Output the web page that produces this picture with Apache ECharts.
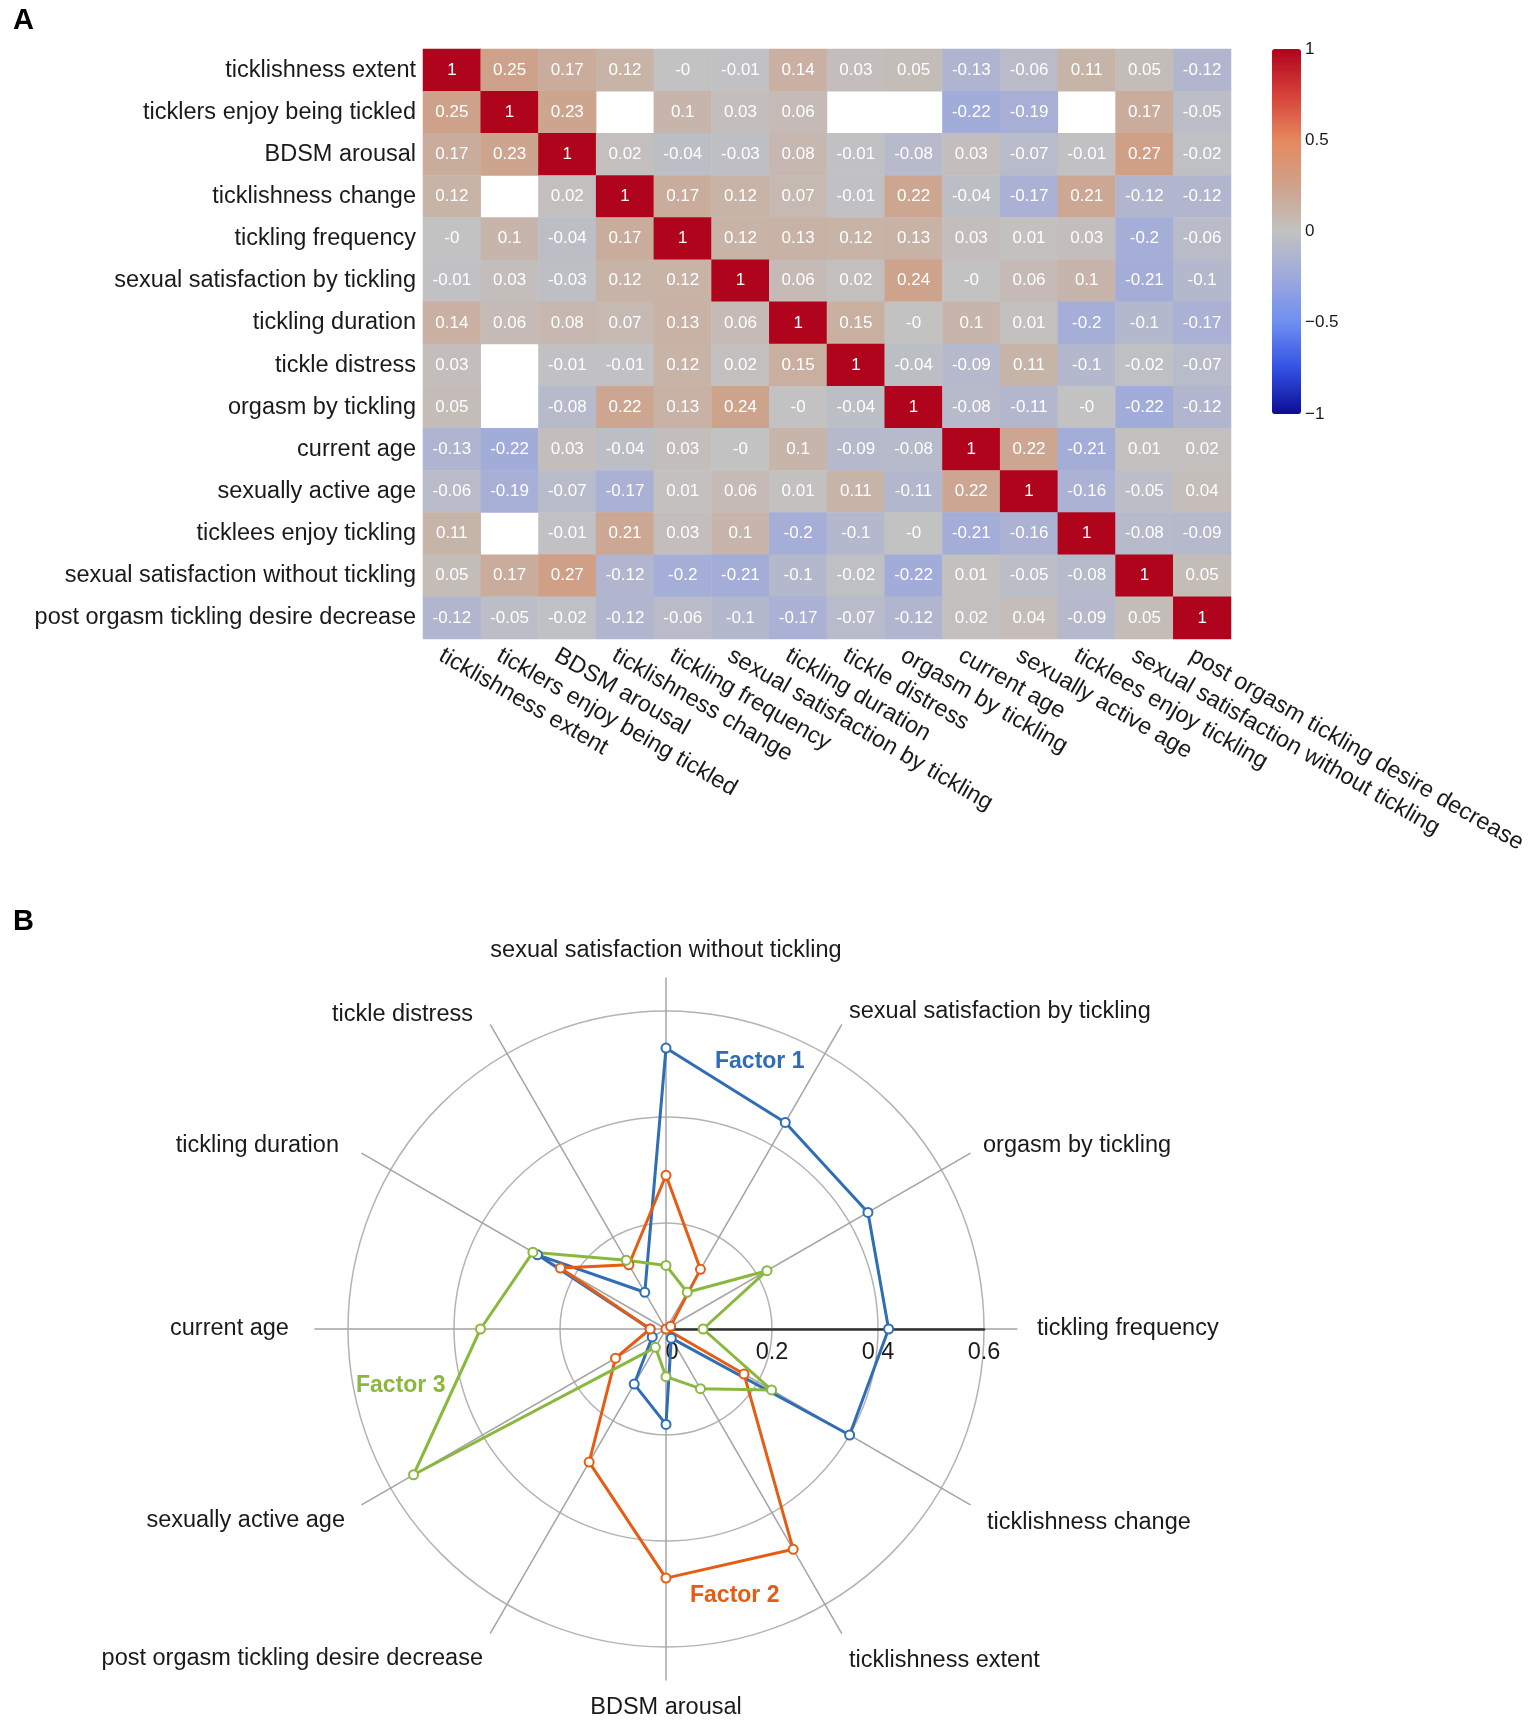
<!DOCTYPE html>
<html><head><meta charset="utf-8">
<script src="https://cdn.jsdelivr.net/npm/echarts@6/dist/echarts.min.js"></script>
<style>html,body{margin:0;padding:0;background:#fff}#c{width:1535px;height:1725px}</style>
</head><body><div id="c"></div>
<script>
// ---------- Panel A data ----------
const variables = [
  'ticklishness extent','ticklers enjoy being tickled','BDSM arousal','ticklishness change',
  'tickling frequency','sexual satisfaction by tickling','tickling duration','tickle distress',
  'orgasm by tickling','current age','sexually active age','ticklees enjoy tickling',
  'sexual satisfaction without tickling','post orgasm tickling desire decrease'
];
const corr = [
  [1, 0.25, 0.17, 0.12, -0, -0.01, 0.14, 0.03, 0.05, -0.13, -0.06, 0.11, 0.05, -0.12],
  [0.25, 1, 0.23, null, 0.1, 0.03, 0.06, null, null, -0.22, -0.19, null, 0.17, -0.05],
  [0.17, 0.23, 1, 0.02, -0.04, -0.03, 0.08, -0.01, -0.08, 0.03, -0.07, -0.01, 0.27, -0.02],
  [0.12, null, 0.02, 1, 0.17, 0.12, 0.07, -0.01, 0.22, -0.04, -0.17, 0.21, -0.12, -0.12],
  [-0, 0.1, -0.04, 0.17, 1, 0.12, 0.13, 0.12, 0.13, 0.03, 0.01, 0.03, -0.2, -0.06],
  [-0.01, 0.03, -0.03, 0.12, 0.12, 1, 0.06, 0.02, 0.24, -0, 0.06, 0.1, -0.21, -0.1],
  [0.14, 0.06, 0.08, 0.07, 0.13, 0.06, 1, 0.15, -0, 0.1, 0.01, -0.2, -0.1, -0.17],
  [0.03, null, -0.01, -0.01, 0.12, 0.02, 0.15, 1, -0.04, -0.09, 0.11, -0.1, -0.02, -0.07],
  [0.05, null, -0.08, 0.22, 0.13, 0.24, -0, -0.04, 1, -0.08, -0.11, -0, -0.22, -0.12],
  [-0.13, -0.22, 0.03, -0.04, 0.03, -0, 0.1, -0.09, -0.08, 1, 0.22, -0.21, 0.01, 0.02],
  [-0.06, -0.19, -0.07, -0.17, 0.01, 0.06, 0.01, 0.11, -0.11, 0.22, 1, -0.16, -0.05, 0.04],
  [0.11, null, -0.01, 0.21, 0.03, 0.1, -0.2, -0.1, -0, -0.21, -0.16, 1, -0.08, -0.09],
  [0.05, 0.17, 0.27, -0.12, -0.2, -0.21, -0.1, -0.02, -0.22, 0.01, -0.05, -0.08, 1, 0.05],
  [-0.12, -0.05, -0.02, -0.12, -0.06, -0.1, -0.17, -0.07, -0.12, 0.02, 0.04, -0.09, 0.05, 1]
];

// ---------- Panel B data (radar axes listed counter-clockwise from top) ----------
const radarAxes = [
  'sexual satisfaction without tickling','tickle distress','tickling duration','current age',
  'sexually active age','post orgasm tickling desire decrease','BDSM arousal','ticklishness extent',
  'ticklishness change','tickling frequency','orgasm by tickling','sexual satisfaction by tickling'
];
const factor1 = [0.53, 0.08, 0.28, 0.03, 0.03, 0.12, 0.18, 0.02, 0.40, 0.42, 0.44, 0.45];
const factor2 = [0.29, 0.14, 0.23, 0.03, 0.11, 0.29, 0.47, 0.48, 0.17, 0.00, 0.01, 0.13];
const factor3 = [0.12, 0.15, 0.29, 0.35, 0.55, 0.04, 0.09, 0.13, 0.23, 0.07, 0.22, 0.08];
const factorNames = ['Factor 1', 'Factor 2', 'Factor 3'];

// ---------- styling ----------
const FONT = '"Liberation Sans", Arial, Helvetica, sans-serif';
const fmtNum = v => (Object.is(v, -0) ? '-0' : String(v));
// fine label placement (padding [top, right, bottom, left]) per radar axis name
const namePad = [[0,0,0,0],[5,10,0,0],[0,10,0,0],[0,11,0,0],[17,4,0,0],[24,0,0,0],
                 [0,0,0,0],[28,0,0,0],[21,0,0,4],[0,0,0,5],[0,0,0,0],[0,0,0,0]];
const nameRich = {};
namePad.forEach((p, i) => { nameRich['n' + i] = {padding: p, fontSize: 23.5, color: '#1a1a1a', fontFamily: FONT}; });

const heatData = [];
corr.forEach((row, r) => row.forEach((v, c) => { if (v !== null) heatData.push([c, r, v]); }));

const chart = echarts.init(document.getElementById('c'), null, {renderer: 'canvas'});
const cx = 666, cy = 1329, R = 318;
const colors = ['#2f6db5', '#e65c12', '#8ab83e'];
const gridBase = {outerBoundsMode: 'none', containLabel: false};

chart.setOption({
  animation: false,
  textStyle: {fontFamily: FONT},
  grid: [
    Object.assign({left: 423, top: 49, width: 808, height: 590}, gridBase),
    Object.assign({left: 1272, top: 49, width: 29, height: 365}, gridBase),
    Object.assign({left: cx, top: cy - 10, width: R, height: 10}, gridBase),
    Object.assign({left: 412, top: 49, width: 808, height: 590}, gridBase)
  ],
  xAxis: [
    {type: 'category', gridIndex: 0, data: variables, show: false},
    {type: 'value', gridIndex: 1, show: false},
    {type: 'value', gridIndex: 2, min: 0, max: 0.6, interval: 0.2, position: 'bottom', z: 1,
     axisLine: {lineStyle: {color: '#333', width: 2.5}}, axisTick: {show: false}, splitLine: {show: false},
     axisLabel: {fontSize: 23.5, color: '#1a1a1a', margin: 12, fontFamily: FONT,
       formatter: v => (v === 0 ? '{z|0}' : String(Math.round(v * 10) / 10)),
       rich: {z: {padding: [0, 0, 0, 12], fontSize: 23.5, color: '#1a1a1a', fontFamily: FONT}}}},
    {type: 'category', gridIndex: 3, data: variables, position: 'bottom',
     axisLine: {show: false}, axisTick: {show: false}, splitLine: {show: false},
     axisLabel: {interval: 0, rotate: -30, fontSize: 23.5, color: '#1a1a1a', margin: 15, fontFamily: FONT}}
  ],
  yAxis: [
    {type: 'category', gridIndex: 0, data: variables, inverse: true,
     axisLine: {show: false}, axisTick: {show: false},
     axisLabel: {interval: 0, fontSize: 23.5, color: '#1a1a1a', margin: 7, fontFamily: FONT}},
    {type: 'value', gridIndex: 1, position: 'right', min: -1, max: 1, interval: 0.5,
     axisLine: {show: false}, axisTick: {show: false}, splitLine: {show: false},
     axisLabel: {fontSize: 17, color: '#1a1a1a', margin: 4, fontFamily: FONT,
       formatter: v => String(v).replace('-', '\u2212')}},
    {type: 'value', gridIndex: 2, show: false, min: 0, max: 1},
    {type: 'value', gridIndex: 3, show: false}
  ],
  visualMap: {
    type: 'continuous', min: -1, max: 1, seriesIndex: 0, calculable: false,
    orient: 'vertical', left: 1272, top: 49, itemWidth: 29, itemHeight: 365,
    padding: 0, text: null, showLabel: false, hoverLink: false,
    inRange: {color: ['#0c0c96', '#3352e2', '#6e8ef2', '#9ea9dc', '#c2c2c2', '#cea28a', '#e5895e', '#d6403a', '#b0041c']}
  },
  radar: [
    {center: [cx, cy], radius: R * 1.104, startAngle: 90, shape: 'circle', splitNumber: 1,
     indicator: radarAxes.map(n => ({name: n, min: 0, max: 0.662})),
     axisName: {color: '#1a1a1a', fontSize: 23.5, fontFamily: FONT,
       formatter: n => '{n' + radarAxes.indexOf(n) + '|' + n + '}', rich: nameRich},
     nameGap: 15,
     axisLine: {lineStyle: {color: '#a4a4a4', width: 1.5}},
     splitLine: {show: false}, splitArea: {show: false}, axisTick: {show: false}, axisLabel: {show: false}},
    {center: [cx, cy], radius: R, startAngle: 90, shape: 'circle', splitNumber: 3,
     indicator: radarAxes.map(n => ({name: n, min: 0, max: 0.6})),
     axisName: {show: false},
     axisLine: {show: false},
     splitLine: {lineStyle: {color: '#b3b3b3', width: 1.5}}, splitArea: {show: false}}
  ],
  series: [
    {type: 'heatmap', xAxisIndex: 0, yAxisIndex: 0, data: heatData,
     label: {show: true, color: '#fff', fontSize: 17, fontFamily: FONT,
       formatter: p => fmtNum(p.value[2])},
     itemStyle: {borderWidth: 0},
     emphasis: {disabled: true}},
    {type: 'radar', radarIndex: 1, z: 3,
     symbol: 'emptyCircle', symbolSize: 9,
     data: [factor1, factor2, factor3].map((vals, i) => ({
       name: factorNames[i], value: vals,
       lineStyle: {color: colors[i], width: 3},
       itemStyle: {color: colors[i], borderWidth: 2.4}
     }))}
  ],
  graphic: [
    {type: 'text', left: 13, top: 6, style: {text: 'A', font: 'bold 29px ' + FONT, fill: '#000'}},
    {type: 'text', left: 13, top: 907, style: {text: 'B', font: 'bold 29px ' + FONT, fill: '#000'}},
    {type: 'text', left: 715, top: 1050, style: {text: factorNames[0], font: 'bold 23px ' + FONT, fill: colors[0]}},
    {type: 'text', left: 690, top: 1584, style: {text: factorNames[1], font: 'bold 23px ' + FONT, fill: colors[1]}},
    {type: 'text', left: 356, top: 1374, style: {text: factorNames[2], font: 'bold 23px ' + FONT, fill: colors[2]}}
  ]
});
</script></body></html>
